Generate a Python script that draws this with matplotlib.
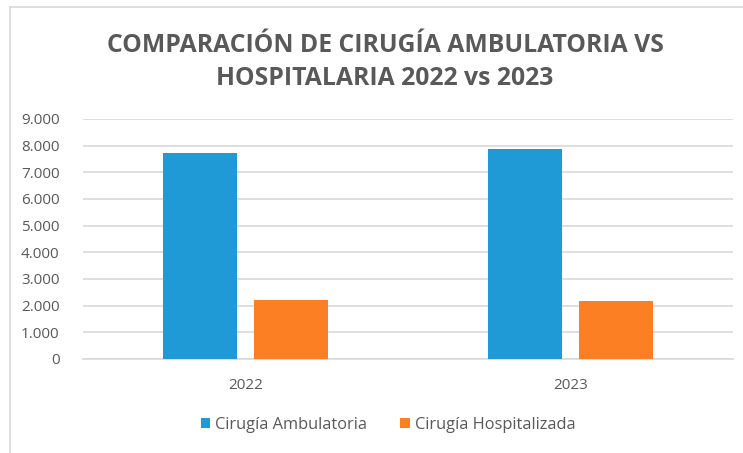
import numpy as np
import matplotlib
matplotlib.use('Agg')
import matplotlib.pyplot as plt
from matplotlib.lines import Line2D
from matplotlib.ticker import FuncFormatter

plt.rcParams['font.family'] = ['Open Sans', 'DejaVu Sans']

years = ['2022', '2023']
ambulatoria = [7730, 7880]
hospitalizada = [2210, 2180]
series_names = ['Cirugía Ambulatoria', 'Cirugía Hospitalizada']
colors = ['#1f9ad6', '#fd7f23']
text_color = '#595959'

fig = plt.figure(figsize=(7.43, 4.53), dpi=100)
ax = fig.add_axes([83/743, 1 - 359/453, 650/743, 240/453])

x = np.arange(len(years))
w = 0.227
off = 0.141
ax.bar(x - off, ambulatoria, w, color=colors[0], label=series_names[0], zorder=3)
ax.bar(x + off, hospitalizada, w, color=colors[1], label=series_names[1], zorder=3)

ax.set_xlim(-0.5, 1.5)
ax.set_ylim(0, 9000)
ax.set_yticks(np.arange(0, 9001, 1000))
ax.yaxis.set_major_formatter(FuncFormatter(lambda v, p: '{:,.0f}'.format(v).replace(',', '.')))
ax.set_xticks(x)
ax.set_xticklabels(years)
ax.tick_params(axis='both', length=0, colors=text_color, labelsize=11)
ax.tick_params(axis='x', pad=14)
ax.tick_params(axis='y', pad=17)
ax.grid(axis='y', color='#d9d9d9', linewidth=1.2, zorder=0)
for s in ['top', 'right', 'left']:
    ax.spines[s].set_visible(False)
ax.spines['bottom'].set_color('#d9d9d9')
ax.spines['bottom'].set_linewidth(1.2)

fig.text(385/743, 1 - 62/453, 'COMPARACIÓN DE CIRUGÍA AMBULATORIA VS\nHOSPITALARIA 2022 vs 2023',
         ha='center', va='center', fontsize=17.8, fontweight='bold', color=text_color,
         linespacing=1.42)

fig.legend(loc='center', bbox_to_anchor=(388/743, 1 - 425/453), ncol=2, frameon=False,
           fontsize=11.8, labelcolor=text_color, handlelength=0.6, handleheight=0.6,
           handletextpad=0.3, columnspacing=2.0)

# chart frame (top and left edges)
fig.add_artist(Line2D([10/743, 1], [1 - 7/453, 1 - 7/453], color='#d9d9d9', linewidth=1.2))
fig.add_artist(Line2D([10/743, 10/743], [0, 1 - 7/453], color='#d9d9d9', linewidth=1.2))

fig.savefig('out.png', dpi=100)
